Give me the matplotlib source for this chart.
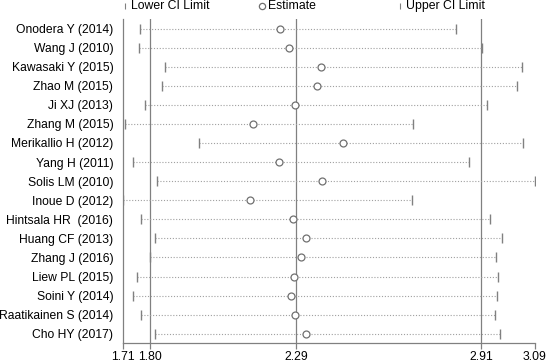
"""
sensitivity analysis (leave-one-out)
"""

import numpy as np
import matplotlib
matplotlib.use("Agg")
import matplotlib.pyplot as plt

plt.rcParams['font.family'] = ['Liberation Sans', 'DejaVu Sans']

studies = ["Onodera Y (2014)", "Wang J (2010)", "Kawasaki Y (2015)", "Zhao M (2015)",
           "Ji XJ (2013)", "Zhang M (2015)", "Merikallio H (2012)", "Yang H (2011)",
           "Solis LM (2010)", "Inoue D (2012)", "Hintsala HR  (2016)", "Huang CF (2013)",
           "Zhang J (2016)", "Liew PL (2015)", "Soini Y (2014)", "Raatikainen S (2014)",
           "Cho HY (2017)"]
estimate = [2.235, 2.266, 2.375, 2.362, 2.286, 2.147, 2.448, 2.233, 2.377,
            2.135, 2.280, 2.325, 2.306, 2.283, 2.272, 2.286, 2.322]
lower = [1.769, 1.766, 1.853, 1.843, 1.786, 1.719, 1.966, 1.744, 1.826,
         1.710, 1.770, 1.817, 1.800, 1.757, 1.744, 1.772, 1.818]
upper = [2.825, 2.911, 3.047, 3.029, 2.931, 2.682, 3.050, 2.868, 3.090,
         2.677, 2.938, 2.980, 2.958, 2.967, 2.962, 2.956, 2.973]

pooled = 2.29
pooled_ci = (1.80, 2.91)
xticks = [1.71, 1.80, 2.29, 2.91, 3.09]

grey = '#808080'
n = len(studies)
y = np.arange(n, 0, -1)

fig = plt.figure(figsize=(5.5, 3.62), dpi=100)
ax = fig.add_axes([0.2231, 0.0517, 0.7496, 0.8958])

# pooled estimate and its CI
for v in [pooled_ci[0], pooled, pooled_ci[1]]:
    ax.axvline(v, color=grey, lw=0.9, zorder=1)

ax.hlines(y, lower, upper, colors='#a0a0a0', linestyles=(0, (1, 1.6)), lw=0.8, zorder=2)
ax.plot(lower, y, ls='none', marker='|', ms=6.5, mew=1.0, color=grey, zorder=3)
ax.plot(upper, y, ls='none', marker='|', ms=6.5, mew=1.0, color=grey, zorder=3)
ax.plot(estimate, y, ls='none', marker='o', ms=5, mfc='white', mec='#707070', mew=0.9, zorder=4)

ax.set_xlim(xticks[0], xticks[-1])
ax.set_ylim(0.5, n + 0.5)
ax.set_xticks(xticks)
ax.set_xticklabels(["%.2f" % t for t in xticks])
ax.set_yticks(y)
ax.set_yticklabels(studies)
ax.tick_params(axis='x', length=4.3, width=0.9, color=grey, pad=1.2, labelsize=8.8)
ax.tick_params(axis='y', length=0, pad=6.8, labelsize=8.7)
for s in ['top', 'right']:
    ax.spines[s].set_visible(False)
for s in ['left', 'bottom']:
    ax.spines[s].set_color(grey)
    ax.spines[s].set_linewidth(0.9)

# legend row above the plot
leg_y = 1.04
leg_items = [('|', 'Lower CI Limit'), ('o', 'Estimate'), ('|', 'Upper CI Limit')]
for i, (m, lab) in enumerate(leg_items):
    x0 = 0.0056 + i * 0.3334
    if m == 'o':
        ax.plot([x0], [leg_y], marker='o', ms=4.5, mfc='white', mec='#707070', mew=0.9,
                transform=ax.transAxes, clip_on=False)
    else:
        ax.plot([x0], [leg_y], marker='|', ms=5, mew=0.8, color=grey,
                transform=ax.transAxes, clip_on=False)
    ax.text(x0 + 0.014, leg_y, lab, transform=ax.transAxes, va='center', ha='left',
            fontsize=8.8)

fig.savefig("out.png", dpi=100)
